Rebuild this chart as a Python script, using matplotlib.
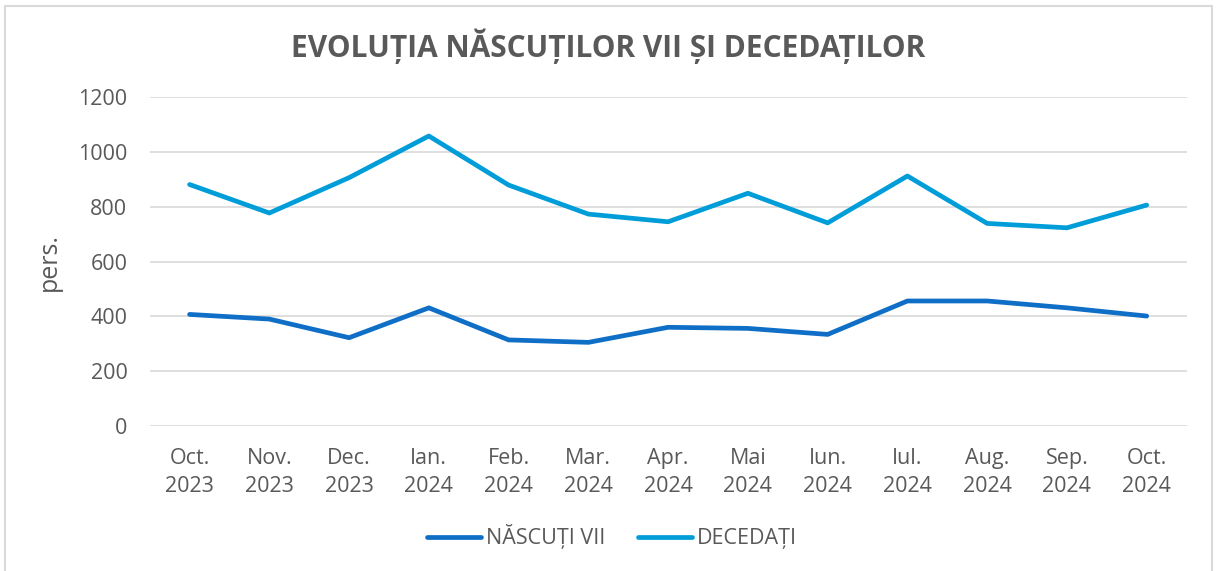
import matplotlib.pyplot as plt
from matplotlib.patches import Rectangle

# Date
luni = ["Oct.\n2023", "Nov.\n2023", "Dec.\n2023", "Ian.\n2024", "Feb.\n2024", "Mar.\n2024",
        "Apr.\n2024", "Mai\n2024", "Iun.\n2024", "Iul.\n2024", "Aug.\n2024", "Sep.\n2024",
        "Oct.\n2024"]
nascuti_vii = [407, 390, 322, 431, 314, 305, 360, 356, 334, 456, 456, 431, 401]
decedati = [881, 777, 906, 1058, 879, 773, 745, 849, 741, 912, 739, 723, 806]

text_color = "#595959"
plt.rcParams['font.family'] = ['Open Sans', 'DejaVu Sans']

fig = plt.figure(figsize=(12.17, 5.71), dpi=100)
ax = fig.add_axes([0.123, 0.254, 0.852, 0.576])

x = range(len(luni))
ax.plot(x, nascuti_vii, color="#0f6fc6", lw=3.4, solid_capstyle="round",
        solid_joinstyle="round", label="NĂSCUȚI VII")
ax.plot(x, decedati, color="#009dd9", lw=3.4, solid_capstyle="round",
        solid_joinstyle="round", label="DECEDAȚI")

ax.set_xlim(-0.5, len(luni) - 0.5)
ax.set_ylim(0, 1200)
ax.set_yticks(range(0, 1201, 200))
ax.set_xticks(list(x))
ax.set_xticklabels(luni)
ax.grid(axis="y", color="#d9d9d9", lw=1.2)
ax.set_axisbelow(True)
for s in ax.spines.values():
    s.set_visible(False)
ax.tick_params(axis="both", length=0, labelsize=15.5, colors=text_color)
ax.tick_params(axis="y", pad=16)
ax.tick_params(axis="x", pad=16)
for lbl in ax.get_xticklabels():
    lbl.set_linespacing(1.4)
ax.set_ylabel("pers.", fontsize=18, color=text_color, labelpad=12)

fig.suptitle("EVOLUȚIA NĂSCUȚILOR VII ȘI DECEDAȚILOR", x=0.5, y=0.95,
             fontsize=21.5, fontweight="bold", color=text_color)

leg = fig.legend(loc="center", bbox_to_anchor=(0.503, 0.06), ncol=2, frameon=False,
                 fontsize=15.5, handlelength=2.5, columnspacing=1.5, handletextpad=0.25)
for t in leg.get_texts():
    t.set_color(text_color)

fig.patches.append(Rectangle((0.004, -0.01), 0.992, 1.0, transform=fig.transFigure,
                             fill=False, edgecolor="#d9d9d9", lw=1.5))

fig.savefig("out.png", dpi=100)
